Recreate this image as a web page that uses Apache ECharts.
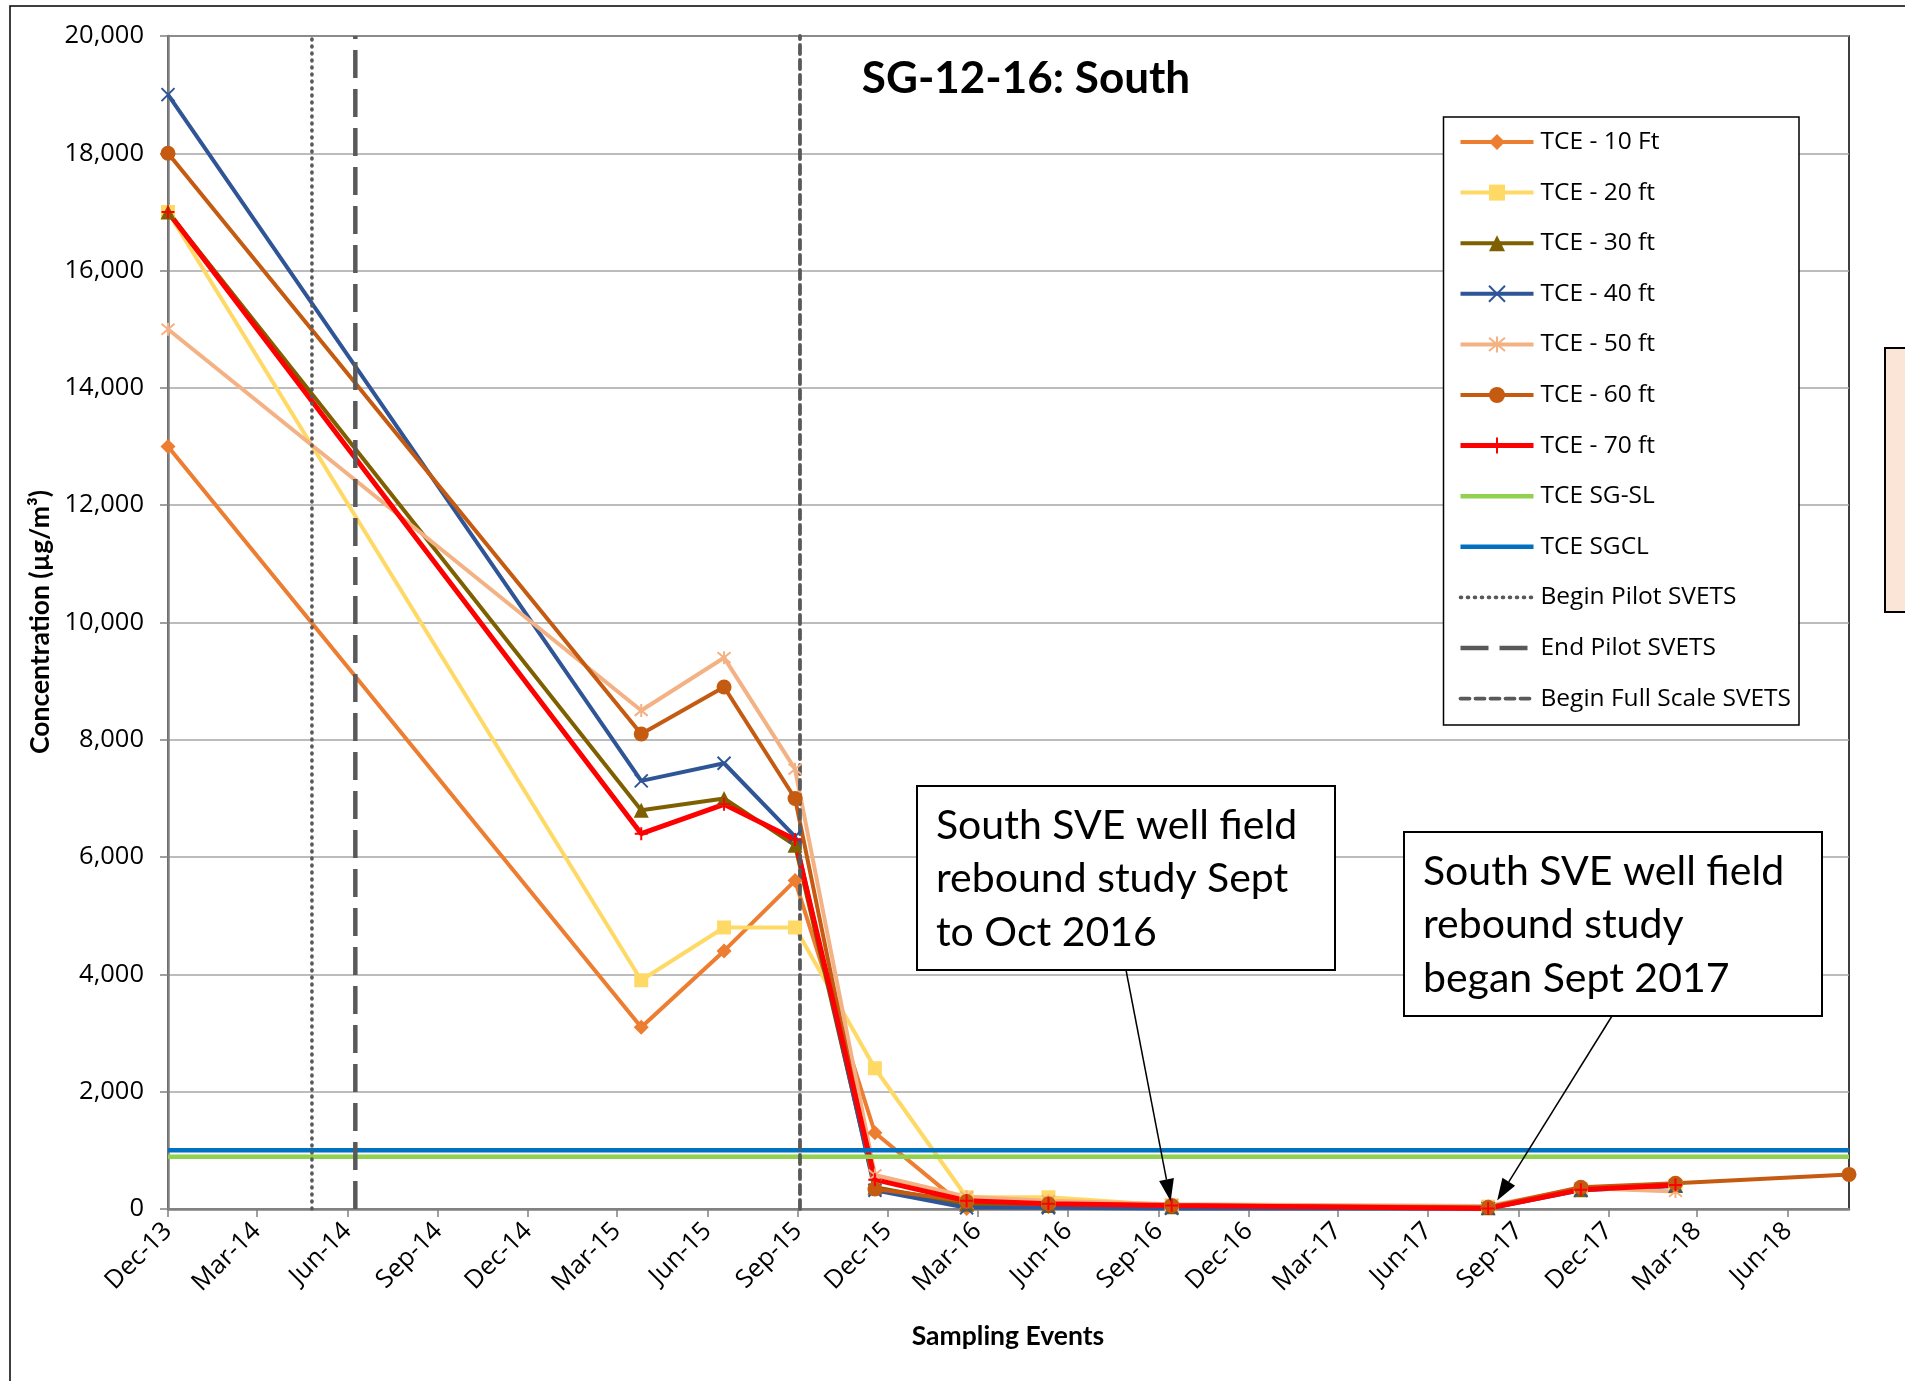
<!DOCTYPE html>
<html><head><meta charset="utf-8">
<script src="https://cdn.jsdelivr.net/npm/echarts@6/dist/echarts.min.js"></script>
<style>html,body{margin:0;padding:0;background:#fff}#c{width:1905px;height:1381px}</style>
</head><body><div id="c"></div>
<script>
// ---------- data ----------
const sampleDates = ['2013-12-01','2015-03-26','2015-06-18','2015-08-29','2015-11-18','2016-02-19','2016-05-12','2016-09-14','2017-08-01','2017-11-03','2018-02-07','2018-08-02'];
const tce10 = [13000, 3100, 4400, 5600, 1300, 10, 40, 40, 20, 340, 400];
const tce20 = [17000, 3900, 4800, 4800, 2400, 200, 200, 60, 40, 330, 400];
const tce30 = [17000, 6800, 7000, 6200, 370, 80, 60, 40, 20, 330, 400];
const tce40 = [19000, 7300, 7600, 6350, 320, 20, 20, 10, 10, 320, 390];
const tce50 = [15000, 8500, 9400, 7500, 580, 210, 140, 80, 50, 360, 300];
const tce60 = [18000, 8100, 8900, 7000, 340, 130, 90, 60, 30, 370, 440, 590];
const tce70 = [17000, 6400, 6900, 6300, 500, 140, 90, 60, 10, 330, 410];
const sgSL = 890;
const sgCL = 1000;
const pilotBegin = '2014-04-26';
const pilotEnd = '2014-06-09';
const fullScaleBegin = '2015-09-03';
const axisMinDate = '2013-12-01';
const axisMaxDate = '2018-08-02';
const xTickDates = ['2013-12-01','2014-03-01','2014-06-01','2014-09-01','2014-12-01','2015-03-01','2015-06-01','2015-09-01','2015-12-01','2016-03-01','2016-06-01','2016-09-01','2016-12-01','2017-03-01','2017-06-01','2017-09-01','2017-12-01','2018-03-01','2018-06-01'];
const yMin = 0, yMax = 20000, yStep = 2000;
const seriesNames = ['TCE - 10 Ft','TCE - 20 ft','TCE - 30 ft','TCE - 40 ft','TCE - 50 ft','TCE - 60 ft','TCE - 70 ft','TCE SG-SL','TCE SGCL','Begin Pilot SVETS','End Pilot SVETS','Begin Full Scale SVETS'];
const note1 = 'South SVE well field\nrebound study Sept\nto Oct 2016';
const note2 = 'South SVE well field\nrebound study\nbegan Sept 2017';
const chartTitle = 'SG-12-16: South';
const yTitle = 'Concentration (\u00b5g/m\u00b3)';
const xTitle = 'Sampling Events';

// ---------- helpers ----------
function ts(s){const p=s.split('-').map(Number);return Date.UTC(p[0],p[1]-1,p[2]);}
const MON=['Jan','Feb','Mar','Apr','May','Jun','Jul','Aug','Sep','Oct','Nov','Dec'];
function fmtDate(v){const d=new Date(v);return MON[d.getUTCMonth()]+'-'+String(d.getUTCFullYear()).slice(2);}
function pts(vals){return vals.map((v,i)=>[ts(sampleDates[i]),v]);}

const SYM_X='path://M0,0L10,10M10,0L0,10';
const SYM_STAR='path://M0,0L10,10M10,0L0,10M5,-1L5,11';
const SYM_PLUS='path://M5,0L5,10M0,5L10,5';
const SYM_NONE='path://M0,0M10,10';

function dataSeries(name, vals, color, symbol, size, lw, stroke){
  return {
    name, type:'line', data:pts(vals), color,
    symbol, symbolSize:size, clip:false,
    lineStyle:{color, width:lw},
    itemStyle: stroke ? {color, borderColor:color, borderWidth:2} : {color, borderWidth:0},
    emphasis:{disabled:true}, animation:false
  };
}
function hSeries(name, v, color){
  return {name, type:'line', symbol:SYM_NONE, symbolSize:10, showSymbol:false, data:[[ts(axisMinDate),v],[ts(axisMaxDate),v]],
    color, itemStyle:{color:'transparent', borderWidth:0}, lineStyle:{color, width:4.5}, emphasis:{disabled:true}, animation:false};
}
function vSeries(name, d, type, width, cap){
  return {name, type:'line', symbol:SYM_NONE, symbolSize:10, showSymbol:false, data:[[ts(d),yMin],[ts(d),yMax]], color:'#595959',
    itemStyle:{color:'transparent', borderWidth:0},
    lineStyle:{color:'#595959', width, type, cap}, emphasis:{disabled:true}, animation:false};
}

const series = [
  dataSeries(seriesNames[0], tce10, '#ED7D31', 'diamond', 15, 4, false),
  dataSeries(seriesNames[1], tce20, '#FFD966', 'rect', 14, 4, false),
  dataSeries(seriesNames[2], tce30, '#7F6000', 'triangle', 15, 4, false),
  dataSeries(seriesNames[3], tce40, '#2F5597', SYM_X, 13, 4, true),
  dataSeries(seriesNames[4], tce50, '#F4B183', SYM_STAR, 13, 4, true),
  dataSeries(seriesNames[5], tce60, '#C55A11', 'circle', 15, 4, false),
  dataSeries(seriesNames[6], tce70, '#FF0000', SYM_PLUS, 13, 5, true),
  hSeries(seriesNames[7], sgSL, '#92D050'),
  hSeries(seriesNames[8], sgCL, '#0070C0'),
  vSeries(seriesNames[9], pilotBegin, [1,6], 3.6, 'round'),
  vSeries(seriesNames[10], pilotEnd, [28,11], 4.5, 'butt'),
  vSeries(seriesNames[11], fullScaleBegin, [9,6], 3.8, 'round')
];

const FONT_LBL = 'Open Sans';
const option = {
  animation:false,
  backgroundColor:'#fff',
  grid:{left:168, right:56, top:36, bottom:172, show:true, borderColor:'#000', borderWidth:1.5, backgroundColor:'transparent', outerBoundsMode:'none', containLabel:false},
  xAxis:{
    type:'value', min:ts(axisMinDate), max:ts(axisMaxDate),
    axisLine:{show:true, lineStyle:{color:'#808080', width:2.5}},
    axisTick:{show:true, length:8, lineStyle:{color:'#808080', width:1.5}, customValues:xTickDates.map(ts)},
    axisLabel:{show:true, rotate:45, margin:18, color:'#000', fontFamily:FONT_LBL, fontSize:25.5,
      customValues:xTickDates.map(ts), formatter:fmtDate, hideOverlap:false},
    splitLine:{show:false}
  },
  yAxis:{
    type:'value', min:yMin, max:yMax, interval:yStep,
    axisLine:{show:true, lineStyle:{color:'#808080', width:2.5}},
    axisTick:{show:true, length:8, lineStyle:{color:'#808080', width:1.5}},
    axisLabel:{margin:24, color:'#000', fontFamily:FONT_LBL, fontSize:25.5,
      formatter:v=>v.toLocaleString('en-US')},
    splitLine:{show:true, lineStyle:{color:'#A6A6A6', width:1.5}}
  },
  legend:{
    orient:'vertical', left:1458, top:128, padding:0, itemGap:22.6, itemWidth:73, itemHeight:20,
    selectedMode:false, data:seriesNames,
    textStyle:{fontFamily:FONT_LBL, fontSize:24.5, color:'#000', lineHeight:28, padding:[0,0,0,2]},
    lineStyle:{width:'inherit'}
  },
  series
};

const chart = echarts.init(document.getElementById('c'), null, {renderer:'canvas'});
chart.setOption(option);

function arrow(x1,y1,x2,y2){
  const a=Math.atan2(y2-y1,x2-x1), L=22, W=7.5;
  const bx=x2-L*Math.cos(a), by=y2-L*Math.sin(a), px=-Math.sin(a), py=Math.cos(a);
  return [
    {type:'line', z:20, shape:{x1,y1,x2:bx,y2:by}, style:{stroke:'#000', lineWidth:1.5}},
    {type:'polygon', z:20, shape:{points:[[x2,y2],[bx+px*W,by+py*W],[bx-px*W,by-py*W]]}, style:{fill:'#000'}}
  ];
}
function noteBox(x,y,w,h,text){
  return [
    {type:'rect', z:15, shape:{x,y,width:w,height:h}, style:{fill:'#fff', stroke:'#000', lineWidth:2}},
    {type:'text', z:16, x:x+19, y:y+13, style:{text, fontFamily:'Lato', fontSize:41, lineHeight:53.5, fill:'#000', align:'left', verticalAlign:'top'}}
  ];
}
const tip1 = chart.convertToPixel({gridIndex:0}, [ts(sampleDates[7]), 100]);
const tip2 = chart.convertToPixel({gridIndex:0}, [ts(sampleDates[8]), 60]);
const graphics = [].concat(
  [{type:'polyline', z:30, shape:{points:[[10,1381],[10,6],[1905,6]]}, style:{stroke:'#000', lineWidth:1.5, fill:null}}],
  [{type:'rect', z:30, shape:{x:1885,y:348,width:40,height:264}, style:{fill:'#FBE5D6', stroke:'#000', lineWidth:2}}],
  [{type:'rect', z:3, shape:{x:1443.5,y:117,width:355.5,height:608}, style:{fill:'#fff', stroke:'#000', lineWidth:1.5}}],
  [{type:'text', z:10, x:1026, y:79, style:{text:chartTitle, fontFamily:'Lato', fontWeight:'bold', fontSize:44, fill:'#000', align:'center', verticalAlign:'middle'}}],
  [{type:'text', z:10, x:40, y:622, rotation:Math.PI/2, style:{text:yTitle, fontFamily:'Lato', fontWeight:'bold', fontSize:26.5, fill:'#000', align:'center', verticalAlign:'middle'}}],
  [{type:'text', z:10, x:1008, y:1336, style:{text:xTitle, fontFamily:'Lato', fontWeight:'bold', fontSize:26.5, fill:'#000', align:'center', verticalAlign:'middle'}}],
  noteBox(917,786,418,184,note1),
  noteBox(1404,832,418,184,note2),
  arrow(1126,970,tip1[0]-1,tip1[1]-2),
  arrow(1612,1016,tip2[0]+9,tip2[1]-5)
);
chart.setOption({graphic:graphics});
</script></body></html>
